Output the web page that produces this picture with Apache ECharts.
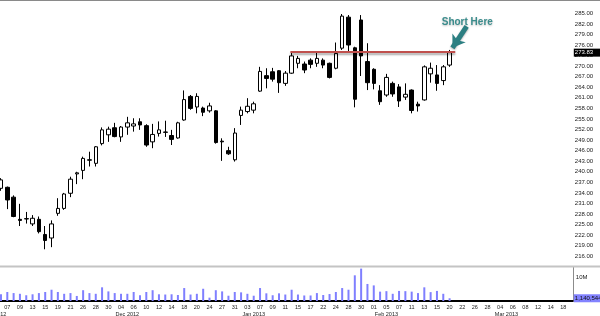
<!DOCTYPE html>
<html><head><meta charset="utf-8">
<script src="https://cdn.jsdelivr.net/npm/echarts@6/dist/echarts.min.js"></script>
<style>html,body{margin:0;padding:0;background:#fff}#c{width:600px;height:316px}</style>
</head><body><div id="c"></div>
<script>
// ---- categories (trading days) ----
const tradeDays = [
 '2012-11-05','2012-11-06','2012-11-07','2012-11-08','2012-11-09','2012-11-12','2012-11-13','2012-11-14','2012-11-15','2012-11-16',
 '2012-11-19','2012-11-20','2012-11-21','2012-11-23','2012-11-26','2012-11-27','2012-11-28','2012-11-29','2012-11-30',
 '2012-12-03','2012-12-04','2012-12-05','2012-12-06','2012-12-07','2012-12-10','2012-12-11','2012-12-12','2012-12-13','2012-12-14',
 '2012-12-17','2012-12-18','2012-12-19','2012-12-20','2012-12-21','2012-12-24','2012-12-26','2012-12-27','2012-12-28','2012-12-31',
 '2013-01-02','2013-01-03','2013-01-04','2013-01-07','2013-01-08','2013-01-09','2013-01-10','2013-01-11','2013-01-14','2013-01-15',
 '2013-01-16','2013-01-17','2013-01-18','2013-01-22','2013-01-23','2013-01-24','2013-01-25','2013-01-28','2013-01-29','2013-01-30','2013-01-31',
 '2013-02-01','2013-02-04','2013-02-05','2013-02-06','2013-02-07','2013-02-08','2013-02-11','2013-02-12','2013-02-13','2013-02-14',
 '2013-02-15','2013-02-19','2013-02-20','2013-02-21','2013-02-22','2013-02-25','2013-02-26','2013-02-27','2013-02-28',
 '2013-03-01','2013-03-04','2013-03-05','2013-03-06','2013-03-07','2013-03-08','2013-03-11','2013-03-12','2013-03-13','2013-03-14',
 '2013-03-15','2013-03-18','2013-03-19'
];
// month captions under the day labels
const monthTicks = {'2012-11-05':'Nov 2012','2012-12-05':'Dec 2012','2013-01-04':'Jan 2013','2013-02-05':'Feb 2013','2013-03-05':'Mar 2013'};

// ---- price candles [open, close, low, high], first one on candleStart ----
const candleStart = '2012-11-06';
const candles = [
 [235.3,237.7,234.6,238.2],[235.6,232.0,229.4,235.8],[232.8,227.3,227.1,233.3],[226.5,226.2,224.6,230.9],[226.7,226.6,225.3,228.6],
 [225.2,226.8,224.6,227.7],[226.5,223.0,222.5,227.3],[222.2,220.5,218.0,224.6],[221.2,225.2,218.6,226.2],[228.2,229.6,227.5,232.5],
 [229.6,233.7,229.2,234.0],[233.9,237.9,232.8,238.6],[239.4,239.7,236.5,240.0],[240.4,243.8,237.9,244.3],[243.4,243.3,241.5,245.7],
 [242.4,247.1,241.5,247.3],[248.0,251.9,247.5,252.6],[250.5,252.1,248.5,252.8],[252.5,250.0,249.8,253.9],[249.9,252.7,248.5,253.0],
 [252.7,253.9,250.5,255.6],[253.0,253.6,251.4,255.2],[254.2,253.3,251.9,255.2],[253.1,247.6,247.1,253.5],[248.5,250.6,246.7,253.6],
 [250.9,251.9,250.0,254.3],[251.3,251.2,249.9,254.5],[250.3,249.2,247.6,251.9],[249.6,253.9,249.4,254.2],[254.7,260.5,254.5,263.1],
 [261.4,258.0,257.6,261.8],[258.4,261.4,256.6,262.3],[258.1,256.9,255.8,258.5],[257.3,258.7,256.8,259.6],[257.3,248.3,248.0,257.5],
 [248.7,248.5,243.1,249.5],[246.0,245.1,244.8,247.1],[243.4,251.0,242.9,252.4],[256.0,257.5,253.3,258.5],[257.1,258.6,256.6,260.9],
 [257.5,259.3,256.6,259.9],[262.9,268.5,262.7,269.8],[267.3,266.5,263.7,269.4],[268.4,266.3,265.6,269.5],[268.7,265.3,262.4,268.9],
 [265.1,268.0,264.4,268.6],[268.0,272.9,267.8,274.1],[270.8,272.2,269.4,272.9],[270.6,268.9,268.0,271.3],[271.7,270.5,269.4,272.2],
 [270.8,272.2,269.8,274.1],[271.7,270.3,269.4,272.2],[270.8,266.8,266.5,271.0],[269.4,273.6,269.1,276.7],[275.1,284.2,274.6,284.8],
 [283.9,276.0,274.1,284.5],[275.2,260.6,258.3,275.5],[283.1,272.9,267.2,284.5],[271.3,265.3,263.2,276.5],[269.1,265.1,263.4,269.4],
 [263.0,259.9,259.0,264.6],[261.8,266.8,261.3,267.8],[265.1,262.1,261.3,265.6],[264.1,260.1,258.4,264.9],[261.2,262.0,260.4,265.1],
 [263.2,257.4,256.6,263.4],[259.2,258.7,257.1,259.9],[260.4,269.8,260.2,270.2],[267.8,269.4,265.3,271.0],[267.5,265.1,263.0,270.3],
 [265.9,269.8,264.6,270.3],[270.3,273.83,269.8,274.6]
];
// ---- volume, millions of shares, same days as candles ----
const volumesM = [
 2.8,3.75,3.3,3.0,2.4,2.8,3.3,3.75,4.7,3.75,3.0,3.3,2.1,4.5,3.3,3.0,5.7,4.0,3.3,3.0,
 3.0,3.75,2.4,3.75,4.5,2.8,2.7,2.8,2.5,5.4,2.7,3.0,5.1,1.4,4.5,4.0,2.2,3.75,3.6,3.0,
 2.2,5.4,3.2,2.4,3.2,2.7,4.7,2.7,2.3,2.3,3.3,2.5,2.9,3.75,5.4,4.7,10.7,13.5,7.1,6.5,
 3.9,4.1,3.0,4.2,4.1,3.9,3.3,5.7,3.7,4.2,3.0,1.140544
];
const lastClose = 273.83;
const lastVolume = 1140544;

// ---- annotation (x in trading-day index units, y in price) ----
const resistanceLevel = 274.2;
const resistanceX = [46.8, 72.9];
const arrowTail = [74.7, 281.3];
const arrowHead = [72.45, 275.2];
const noteText = 'Short Here';
const notePos = [74.8, 282.4];

const startIdx = tradeDays.indexOf(candleStart);
const candleData = candles.map((c, j) => [tradeDays[startIdx + j], c[0], c[1], c[2], c[3]]);
const volumeData = volumesM.map((v, j) => [tradeDays[startIdx + j], v]);
const N = tradeDays.length;
const FONT = 'Liberation Sans, Arial, sans-serif';

const chart = echarts.init(document.getElementById('c'), null, {renderer: 'canvas', width: 600, height: 316});
const gridW = 581.3;
chart.setOption({
  animation: false,
  backgroundColor: '#ffffff',
  textStyle: {fontFamily: FONT},
  grid: [
    {left: -8.5, top: 2.73, width: gridW, height: 264.15, containLabel: false, outerBoundsMode: 'none'},
    {left: -8.5, top: 267.4, width: gridW, height: 33.6, containLabel: false, outerBoundsMode: 'none'}
  ],
  xAxis: [
    {type: 'category', gridIndex: 0, data: tradeDays, boundaryGap: true, show: false},
    {type: 'category', gridIndex: 1, data: tradeDays, boundaryGap: true,
     axisLine: {show: true, lineStyle: {color: '#000', width: 2}}, axisTick: {show: false}, splitLine: {show: false},
     axisLabel: {fontSize: 5.5, color: '#222', margin: 3, fontFamily: FONT,
       interval: (i) => i % 2 === 0, formatter: (v) => v.slice(8)}},
    {type: 'category', gridIndex: 1, data: tradeDays, boundaryGap: true, position: 'bottom', offset: 7,
     axisLine: {show: false}, axisTick: {show: false}, splitLine: {show: false},
     axisLabel: {fontSize: 5.5, color: '#222', margin: 3, fontFamily: FONT,
       interval: (i, v) => !!monthTicks[v], formatter: (v) => monthTicks[v] || ''}},
    {type: 'value', gridIndex: 0, min: -0.5, max: N - 0.5, show: false}
  ],
  yAxis: [
    {type: 'value', gridIndex: 0, position: 'right', min: 213, max: 288, interval: 3,
     splitLine: {show: false}, axisTick: {show: false},
     axisLine: {show: true, lineStyle: {color: '#8c8c8c', width: 1}},
     axisLabel: {fontSize: 6, color: '#222', margin: 2, fontFamily: FONT,
       formatter: (v) => (v < 216 || v > 285) ? '' : v.toFixed(2)}},
    {type: 'value', gridIndex: 1, position: 'right', min: 0, max: 14, interval: 10,
     splitLine: {show: false}, axisTick: {show: false},
     axisLine: {show: true, lineStyle: {color: '#8c8c8c', width: 1}},
     axisLabel: {fontSize: 6, color: '#222', margin: 3, fontFamily: FONT,
       formatter: (v) => v === 10 ? '10M' : ''}}
  ],
  series: [
    {type: 'candlestick', xAxisIndex: 0, yAxisIndex: 0, data: candleData,
     encode: {x: 0, y: [1, 2, 3, 4]}, barWidth: 4,
     itemStyle: {color: '#ffffff', color0: '#000000', borderColor: '#000000', borderColor0: '#000000', borderColorDoji: '#000000', borderWidth: 1},
     markLine: {silent: true, symbol: ['none', 'none'], animation: false,
       data: [{yAxis: lastClose, lineStyle: {opacity: 0, width: 0},
         label: {show: true, position: 'end', distance: 1, formatter: lastClose.toFixed(2), color: '#fff',
           backgroundColor: '#000', fontSize: 6, fontFamily: FONT, padding: [1, 8, 1, 1], opacity: 1}}]}},
    {type: 'bar', xAxisIndex: 1, yAxisIndex: 1, data: volumeData, barWidth: 2,
     itemStyle: {color: '#7f7fff'},
     markLine: {silent: true, symbol: ['none', 'none'], animation: false,
       data: [{yAxis: lastVolume / 1e6, lineStyle: {opacity: 0, width: 0},
         label: {show: true, position: 'end', distance: 1, formatter: lastVolume.toLocaleString('en-US'), color: '#111',
           backgroundColor: '#8282ff', fontSize: 6, fontFamily: FONT, padding: [1, 3, 1, 1], opacity: 1}}]}},
    {type: 'lines', coordinateSystem: 'cartesian2d', xAxisIndex: 3, yAxisIndex: 0, z: 5,
     symbol: ['none', 'none'],
     lineStyle: {color: '#c0504d', width: 2, opacity: 1, shadowColor: 'rgba(0,0,0,0.35)', shadowBlur: 2, shadowOffsetY: 2},
     data: [{coords: [[resistanceX[0], resistanceLevel], [resistanceX[1], resistanceLevel]]}]},
    {type: 'lines', coordinateSystem: 'cartesian2d', xAxisIndex: 3, yAxisIndex: 0, z: 6,
     symbol: ['none', 'arrow'], symbolSize: 12,
     lineStyle: {color: '#2c7f82', width: 5, opacity: 1, shadowColor: 'rgba(0,0,0,0.3)', shadowBlur: 2, shadowOffsetY: 1},
     data: [{coords: [arrowTail, arrowHead]}]},
    {type: 'scatter', xAxisIndex: 3, yAxisIndex: 0, z: 7, symbolSize: 1, itemStyle: {color: 'rgba(0,0,0,0)'},
     data: [notePos],
     label: {show: true, position: 'inside', formatter: noteText, color: '#3a8c8c', fontSize: 10, fontWeight: 'bold', opacity: 1,
       fontFamily: FONT, textShadowColor: 'rgba(0,0,0,0.25)', textShadowBlur: 2, textShadowOffsetY: 1}}
  ],
  graphic: [
    {type: 'rect', silent: true, z: 100, shape: {x: 0, y: 0, width: 600, height: 1}, style: {fill: '#8a8a8a'}},
    {type: 'rect', silent: true, z: 100, shape: {x: 0, y: 265.5, width: 600, height: 2}, style: {fill: '#c4c4c4'}}
  ]
});
</script></body></html>
